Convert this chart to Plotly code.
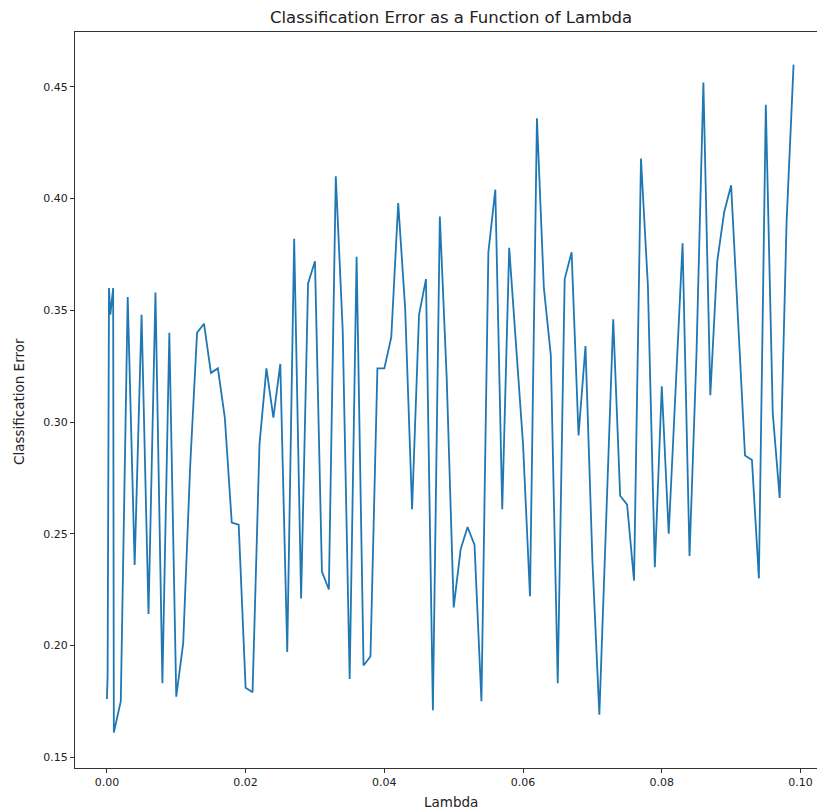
import plotly.graph_objects as go

lambdas = [0.0, 0.0001, 0.0003, 0.0005, 0.0009,
           0.001, 0.002, 0.003, 0.004, 0.005, 0.006, 0.007, 0.008, 0.009, 0.010,
           0.011, 0.012, 0.013, 0.014, 0.015, 0.016, 0.017, 0.018, 0.019, 0.020,
           0.021, 0.022, 0.023, 0.024, 0.025, 0.026, 0.027, 0.028, 0.029, 0.030,
           0.031, 0.032, 0.033, 0.034, 0.035, 0.036, 0.037, 0.038, 0.039, 0.040,
           0.041, 0.042, 0.043, 0.044, 0.045, 0.046, 0.047, 0.048, 0.049, 0.050,
           0.051, 0.052, 0.053, 0.054, 0.055, 0.056, 0.057, 0.058, 0.059, 0.060,
           0.061, 0.062, 0.063, 0.064, 0.065, 0.066, 0.067, 0.068, 0.069, 0.070,
           0.071, 0.072, 0.073, 0.074, 0.075, 0.076, 0.077, 0.078, 0.079, 0.080,
           0.081, 0.082, 0.083, 0.084, 0.085, 0.086, 0.087, 0.088, 0.089, 0.090,
           0.091, 0.092, 0.093, 0.094, 0.095, 0.096, 0.097, 0.098, 0.099]

errors = [0.176, 0.186, 0.360, 0.348, 0.360,
          0.161, 0.175, 0.356, 0.236, 0.348, 0.214, 0.358, 0.183, 0.340, 0.177,
          0.201, 0.280, 0.340, 0.344, 0.322, 0.324, 0.302, 0.255, 0.254, 0.181,
          0.179, 0.290, 0.324, 0.302, 0.326, 0.197, 0.382, 0.221, 0.362, 0.372,
          0.233, 0.225, 0.410, 0.341, 0.185, 0.374, 0.191, 0.195, 0.324, 0.324,
          0.338, 0.398, 0.351, 0.261, 0.348, 0.364, 0.171, 0.392, 0.319, 0.217,
          0.243, 0.253, 0.245, 0.175, 0.376, 0.404, 0.261, 0.378, 0.335, 0.290,
          0.222, 0.436, 0.360, 0.330, 0.183, 0.364, 0.376, 0.294, 0.334, 0.238,
          0.169, 0.260, 0.346, 0.267, 0.263, 0.229, 0.418, 0.361, 0.235, 0.316,
          0.250, 0.315, 0.380, 0.240, 0.330, 0.452, 0.312, 0.372, 0.394, 0.406,
          0.345, 0.285, 0.283, 0.230, 0.442, 0.304, 0.266, 0.390, 0.460]

x_ticks = [0.00, 0.02, 0.04, 0.06, 0.08, 0.10]
x_tick_labels = ["0.00", "0.02", "0.04", "0.06", "0.08", "0.10"]
y_ticks = [0.15, 0.20, 0.25, 0.30, 0.35, 0.40, 0.45]
y_tick_labels = ["0.15", "0.20", "0.25", "0.30", "0.35", "0.40", "0.45"]

title_text = "Classification Error as a Function of Lambda"
x_label = "Lambda"
y_label = "Classification Error"

FONT = "DejaVu Sans"
fig = go.Figure()
fig.add_trace(go.Scatter(x=lambdas, y=errors, mode="lines",
                         line=dict(color="#1f77b4", width=1.8),
                         showlegend=False, hoverinfo="skip"))

W, H = 817, 810
L, R, T, B = 75, 0, 32, 42
pw = W - L - R
ph = H - T - B

fig.update_layout(
    width=W, height=H,
    margin=dict(l=L, r=R, t=T, b=B, pad=0),
    paper_bgcolor="white", plot_bgcolor="white",
    font=dict(family=FONT, color="#222222"),
    xaxis=dict(range=[-0.0046, 0.10238], tickvals=x_ticks, ticktext=x_tick_labels,
               showgrid=False, zeroline=False, showline=True, mirror=True,
               linecolor="#333333", linewidth=1, ticks="outside", ticklen=4,
               tickcolor="#333333", tickfont=dict(family=FONT, size=11, color="#222222")),
    yaxis=dict(range=[0.1451, 0.4746], tickvals=y_ticks, ticktext=y_tick_labels,
               showgrid=False, zeroline=False, showline=True, mirror=False,
               linecolor="#333333", linewidth=1, ticks="outside", ticklen=4,
               tickcolor="#333333", tickfont=dict(family=FONT, size=11, color="#222222")),
    annotations=[
        dict(text=title_text, xref="paper", yref="paper",
             x=(451 - L) / pw, y=1 + (T - 18) / ph, xanchor="center", yanchor="middle",
             showarrow=False, font=dict(family=FONT, size=16.5, color="#222222")),
        dict(text=x_label, xref="paper", yref="paper",
             x=(451 - L) / pw, y=-(802 - (H - B)) / ph, xanchor="center", yanchor="middle",
             showarrow=False, font=dict(family=FONT, size=13.5, color="#222222")),
        dict(text=y_label, xref="paper", yref="paper", textangle=-90,
             x=(19 - L) / pw, y=0.5 - (402 - (T + ph / 2)) / ph, xanchor="center", yanchor="middle",
             showarrow=False, font=dict(family=FONT, size=13.5, color="#222222")),
    ],
)

fig.write_html("out.html")
